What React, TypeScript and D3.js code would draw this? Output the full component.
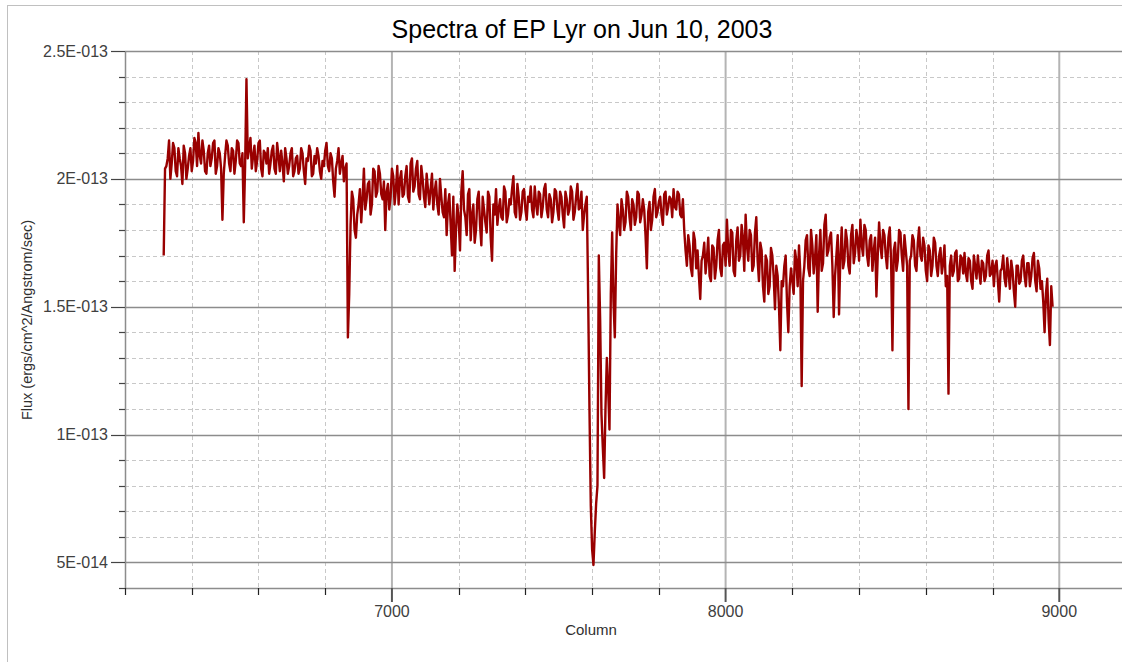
import React from 'react';
import * as d3 from 'd3';

const TITLE = 'Spectra of EP Lyr on Jun 10, 2003';
const X_LABEL = 'Column';
const Y_LABEL = 'Flux (ergs/cm^2/Angstrom/sec)';

const X_MAJOR_TICKS = [7000, 8000, 9000];
const X_MINOR_TICKS = [6200, 6400, 6600, 6800, 7200, 7400, 7600, 7800, 8200, 8400, 8600, 8800];
// flux in units of 1E-013
const Y_MAJOR_TICKS = [0.5, 1.0, 1.5, 2.0, 2.5];
const Y_TICK_LABELS = ['5E-014', '1E-013', '1.5E-013', '2E-013', '2.5E-013'];
const Y_MINOR_TICKS = [0.4, 0.6, 0.7, 0.8, 0.9, 1.1, 1.2, 1.3, 1.4, 1.6, 1.7, 1.8, 1.9, 2.1, 2.2, 2.3, 2.4];

// spectrum samples: FLUX_A at 6316 + 8*i Angstrom, FLUX_B at 6320 + 8*i Angstrom
const WAVE_START_A = 6316;
const WAVE_START_B = 6320;
const WAVE_STEP = 8;
const FLUX_A = [
  1.70, 2.05, 2.15, 2.06, 2.12, 2.01, 2.08, 1.98, 2.10, 2.04,
  2.12, 2.07, 2.14, 2.18, 2.06, 2.11, 2.02, 2.13, 2.08, 2.15,
  2.05, 2.10, 1.84, 2.09, 2.13, 2.03, 2.11, 2.07, 2.14, 2.05,
  1.83, 2.39, 2.12, 2.04, 2.13, 2.07, 2.15, 2.01, 2.10, 2.12,
  2.06, 2.13, 2.02, 2.09, 2.11, 1.99, 2.08, 2.05, 2.12, 2.03,
  2.09, 2.04, 2.10, 1.98, 2.07, 2.11, 2.02, 2.06, 2.09, 2.00,
  2.05, 2.14, 2.03, 2.08, 1.93, 2.07, 2.02, 2.09, 2.04, 1.38,
  1.82, 1.92, 1.77, 1.90, 1.83, 2.04, 1.92, 1.99, 1.90, 2.03,
  1.95, 2.02, 1.92, 1.80, 1.98, 1.93, 2.01, 1.96, 1.90, 2.03,
  1.94, 2.05, 1.91, 2.08, 1.97, 2.07, 1.92, 2.00, 1.89, 1.96,
  1.96, 1.88, 1.99, 1.86, 1.93, 1.85, 1.78, 1.94, 1.70, 1.64,
  1.90, 1.72, 2.03, 1.85, 1.94, 1.76, 1.90, 1.80, 1.95, 1.74,
  1.88, 1.79, 1.93, 1.68, 1.86, 1.82, 1.92, 1.84, 1.95, 1.86,
  1.90, 2.01, 1.85, 1.93, 1.87, 1.96, 1.84, 1.91, 1.88, 1.97,
  1.86, 1.94, 1.89, 1.98, 1.85, 1.92, 1.87, 1.95, 1.84, 1.93,
  1.81, 1.92, 1.88, 1.95, 1.87, 1.98, 1.89, 1.80, 1.90, 1.55,
  0.72, 0.49, 0.73, 1.70, 1.08, 0.83, 1.30, 1.02, 1.79, 1.38,
  1.90, 1.78, 1.88, 1.83, 1.93, 1.80, 1.90, 1.85, 1.94, 1.86,
  1.88, 1.65, 1.91, 1.84, 1.96, 1.87, 1.93, 1.82, 1.95, 1.89,
  1.92, 1.96, 1.88, 1.94, 1.85, 1.80, 1.66, 1.74, 1.62, 1.76,
  1.72, 1.53, 1.70, 1.63, 1.77, 1.60, 1.73, 1.66, 1.80, 1.62,
  1.75, 1.84, 1.66, 1.79, 1.62, 1.81, 1.70, 1.77, 1.86, 1.68,
  1.78, 1.66, 1.85, 1.60, 1.72, 1.52, 1.68, 1.58, 1.70, 1.49,
  1.62, 1.33, 1.58, 1.70, 1.40, 1.65, 1.55, 1.68, 1.74, 1.19,
  1.66, 1.78, 1.62, 1.74, 1.69, 1.48, 1.80, 1.67, 1.86, 1.72,
  1.79, 1.46, 1.70, 1.47, 1.81, 1.68, 1.76, 1.63, 1.82, 1.71,
  1.76, 1.84, 1.70, 1.80, 1.66, 1.78, 1.72, 1.54, 1.83, 1.69,
  1.78, 1.65, 1.81, 1.33, 1.75, 1.68, 1.79, 1.64, 1.72, 1.10,
  1.70, 1.76, 1.64, 1.81, 1.68, 1.74, 1.60, 1.72, 1.66, 1.75,
  1.62, 1.73, 1.67, 1.58, 1.16, 1.70, 1.64, 1.72, 1.61, 1.69,
  1.71, 1.60, 1.68, 1.57, 1.66, 1.70, 1.59, 1.67, 1.62, 1.72,
  1.63, 1.58, 1.68, 1.52, 1.65, 1.61, 1.69, 1.57, 1.64, 1.50,
  1.66, 1.60, 1.70, 1.58, 1.67, 1.62, 1.71, 1.56, 1.65, 1.60,
  1.40, 1.61, 1.35, 1.50,
];
const FLUX_B = [
  2.04, 2.08, 2.00, 2.14, 2.03, 2.12, 2.05, 2.13, 2.00, 2.09,
  2.03, 2.16, 2.05, 2.09, 2.15, 2.03, 2.10, 2.05, 2.14, 2.02,
  2.12, 2.04, 2.02, 2.15, 2.06, 2.12, 2.02, 2.15, 2.06, 2.10,
  2.05, 2.08, 2.16, 2.09, 2.03, 2.14, 2.04, 2.11, 2.06, 2.02,
  2.11, 2.04, 2.14, 2.03, 2.06, 2.12, 2.02, 2.10, 2.01, 2.08,
  2.02, 2.12, 2.03, 2.08, 2.13, 2.01, 2.09, 2.12, 2.03, 2.07,
  2.11, 2.05, 2.10, 1.99, 2.04, 2.12, 2.06, 1.99, 2.06, 1.55,
  1.95, 1.80, 1.86, 1.96, 1.92, 1.88, 1.98, 1.86, 2.04, 1.93,
  2.05, 1.94, 1.99, 1.95, 1.88, 2.04, 1.90, 2.05, 2.00, 1.93,
  2.01, 1.93, 2.06, 1.95, 2.04, 1.94, 2.05, 1.93, 2.02, 1.90,
  2.02, 1.95, 1.90, 2.00, 1.87, 1.96, 1.90, 1.82, 1.93, 1.80,
  1.84, 1.95, 1.88, 1.78, 1.96, 1.86, 1.75, 1.92, 1.82, 1.93,
  1.83, 1.95, 1.77, 1.90, 1.96, 1.88, 1.85, 1.97, 1.83, 1.92,
  1.96, 1.87, 1.98, 1.84, 1.95, 1.88, 1.93, 1.97, 1.85, 1.90,
  1.95, 1.85, 1.96, 1.88, 1.94, 1.83, 1.96, 1.88, 1.95, 1.86,
  1.95, 1.86, 1.97, 1.84, 1.93, 1.88, 1.95, 1.86, 1.93, 1.10,
  0.55, 0.62, 0.80, 1.45, 0.95, 1.10, 1.18, 1.55, 1.52, 1.70,
  1.83, 1.92, 1.80, 1.95, 1.85, 1.92, 1.82, 1.95, 1.83, 1.92,
  1.78, 1.87, 1.80, 1.93, 1.85, 1.91, 1.86, 1.94, 1.86, 1.93,
  1.85, 1.89, 1.95, 1.86, 1.92, 1.72, 1.78, 1.65, 1.79, 1.65,
  1.62, 1.68, 1.75, 1.69, 1.62, 1.74, 1.61, 1.76, 1.65, 1.74,
  1.66, 1.72, 1.80, 1.64, 1.76, 1.68, 1.82, 1.64, 1.74, 1.80,
  1.64, 1.79, 1.68, 1.75, 1.58, 1.70, 1.55, 1.73, 1.62, 1.66,
  1.50, 1.60, 1.66, 1.52, 1.58, 1.60, 1.72, 1.58, 1.63, 1.60,
  1.76, 1.65, 1.80, 1.63, 1.78, 1.70, 1.64, 1.82, 1.70, 1.77,
  1.66, 1.62, 1.78, 1.70, 1.65, 1.80, 1.66, 1.78, 1.67, 1.80,
  1.68, 1.74, 1.82, 1.70, 1.76, 1.64, 1.77, 1.70, 1.74, 1.80,
  1.70, 1.77, 1.68, 1.72, 1.64, 1.80, 1.70, 1.78, 1.66, 1.68,
  1.78, 1.66, 1.75, 1.70, 1.77, 1.64, 1.74, 1.62, 1.77, 1.66,
  1.70, 1.63, 1.74, 1.62, 1.66, 1.62, 1.71, 1.60, 1.70, 1.63,
  1.63, 1.69, 1.60, 1.70, 1.61, 1.64, 1.68, 1.60, 1.70, 1.62,
  1.68, 1.66, 1.60, 1.64, 1.70, 1.58, 1.63, 1.68, 1.56, 1.66,
  1.59, 1.68, 1.62, 1.67, 1.58, 1.69, 1.60, 1.68, 1.57, 1.52,
  1.55, 1.45, 1.58,
];

const W = 1122;
const H = 662;
const PL = 125, PT = 51, PR = 1126, PB = 588;
const FONT = '"Liberation Sans", Arial, sans-serif';

type Pt = { w: number; f: number };

export default function App() {
  const x = d3.scaleLinear().domain([6200, 9200]).range([PL, PR]);
  const y = d3.scaleLinear().domain([0.4, 2.5]).range([PB, PT]);
  const data: Pt[] = [];
  FLUX_A.forEach((f, i) => {
    data.push({ w: WAVE_START_A + i * WAVE_STEP, f });
    if (i < FLUX_B.length) data.push({ w: WAVE_START_B + i * WAVE_STEP, f: FLUX_B[i] });
  });
  const line = d3.line<Pt>().x(d => x(d.w)).y(d => y(d.f));
  const py = (v: number) => Math.round(y(v)) + 0.5;
  const px = (v: number) => Math.round(x(v)) + 0.5;

  return (
    <svg width={W} height={H} style={{ position: 'absolute', left: 0, top: 0, background: '#fff' }} fontFamily={FONT}>
      <rect x={0} y={0} width={W} height={H} fill="#fff" />
      <rect x={7.5} y={5.5} width={W + 10} height={H + 10} fill="none" stroke="#c0c0c0" strokeWidth={1} />
      <text x={582} y={38} textAnchor="middle" fontSize={25} fill="#000">{TITLE}</text>
      <defs>
        <clipPath id="plot">
          <rect x={PL} y={PT - 2} width={PR - PL} height={PB - PT + 2} />
        </clipPath>
      </defs>
      {/* minor grid */}
      {Y_MINOR_TICKS.filter(v => v > 0.4).map(v => (
        <line key={'ym' + v} x1={PL} x2={W} y1={py(v)} y2={py(v)} stroke="#c8c8c8" strokeDasharray="4,3" />
      ))}
      {X_MINOR_TICKS.filter(v => v > 6200).map(v => (
        <line key={'xm' + v} x1={px(v)} x2={px(v)} y1={PT} y2={PB} stroke="#c8c8c8" strokeDasharray="4,3" />
      ))}
      {/* major grid */}
      {X_MAJOR_TICKS.map(v => (
        <line key={'xM' + v} x1={x(v)} x2={x(v)} y1={PT} y2={PB} stroke="#b4b4b4" strokeWidth={2} />
      ))}
      {Y_MAJOR_TICKS.map(v => (
        <line key={'yM' + v} x1={PL} x2={W} y1={py(v)} y2={py(v)} stroke="#8c8c8c" strokeWidth={1.3} />
      ))}
      {/* axes */}
      <line x1={PL + 0.5} x2={PL + 0.5} y1={PT} y2={PB} stroke="#8c8c8c" strokeWidth={1.5} />
      <line x1={PL} x2={W} y1={PB + 0.5} y2={PB + 0.5} stroke="#8c8c8c" strokeWidth={1.5} />
      {/* y ticks */}
      {Y_MAJOR_TICKS.map((v, i) => (
        <g key={'yt' + v}>
          <line x1={111} x2={PL} y1={py(v)} y2={py(v)} stroke="#444" strokeWidth={1.2} />
          <text x={108} y={y(v)} dy="0.35em" textAnchor="end" fontSize={16} fill="#404040">{Y_TICK_LABELS[i]}</text>
        </g>
      ))}
      {Y_MINOR_TICKS.map(v => (
        <line key={'ytm' + v} x1={119} x2={PL} y1={py(v)} y2={py(v)} stroke="#444" strokeWidth={1.2} />
      ))}
      {/* x ticks */}
      {X_MAJOR_TICKS.map(v => (
        <g key={'xt' + v}>
          <line x1={x(v)} x2={x(v)} y1={PB} y2={602} stroke="#555" strokeWidth={2} />
          <text x={x(v)} y={617} textAnchor="middle" fontSize={16} fill="#404040">{v}</text>
        </g>
      ))}
      {X_MINOR_TICKS.map(v => (
        <line key={'xtm' + v} x1={px(v)} x2={px(v)} y1={PB} y2={595} stroke="#222" strokeWidth={1.2} />
      ))}
      <text x={591} y={635} textAnchor="middle" fontSize={15} fill="#303030">{X_LABEL}</text>
      <text transform="translate(32,320) rotate(-90)" textAnchor="middle" fontSize={14.5} fill="#303030">{Y_LABEL}</text>
      {/* spectrum */}
      <path d={line(data) || ''} fill="none" stroke="#990000" strokeWidth={2.4} strokeLinejoin="round" clipPath="url(#plot)" />
    </svg>
  );
}
